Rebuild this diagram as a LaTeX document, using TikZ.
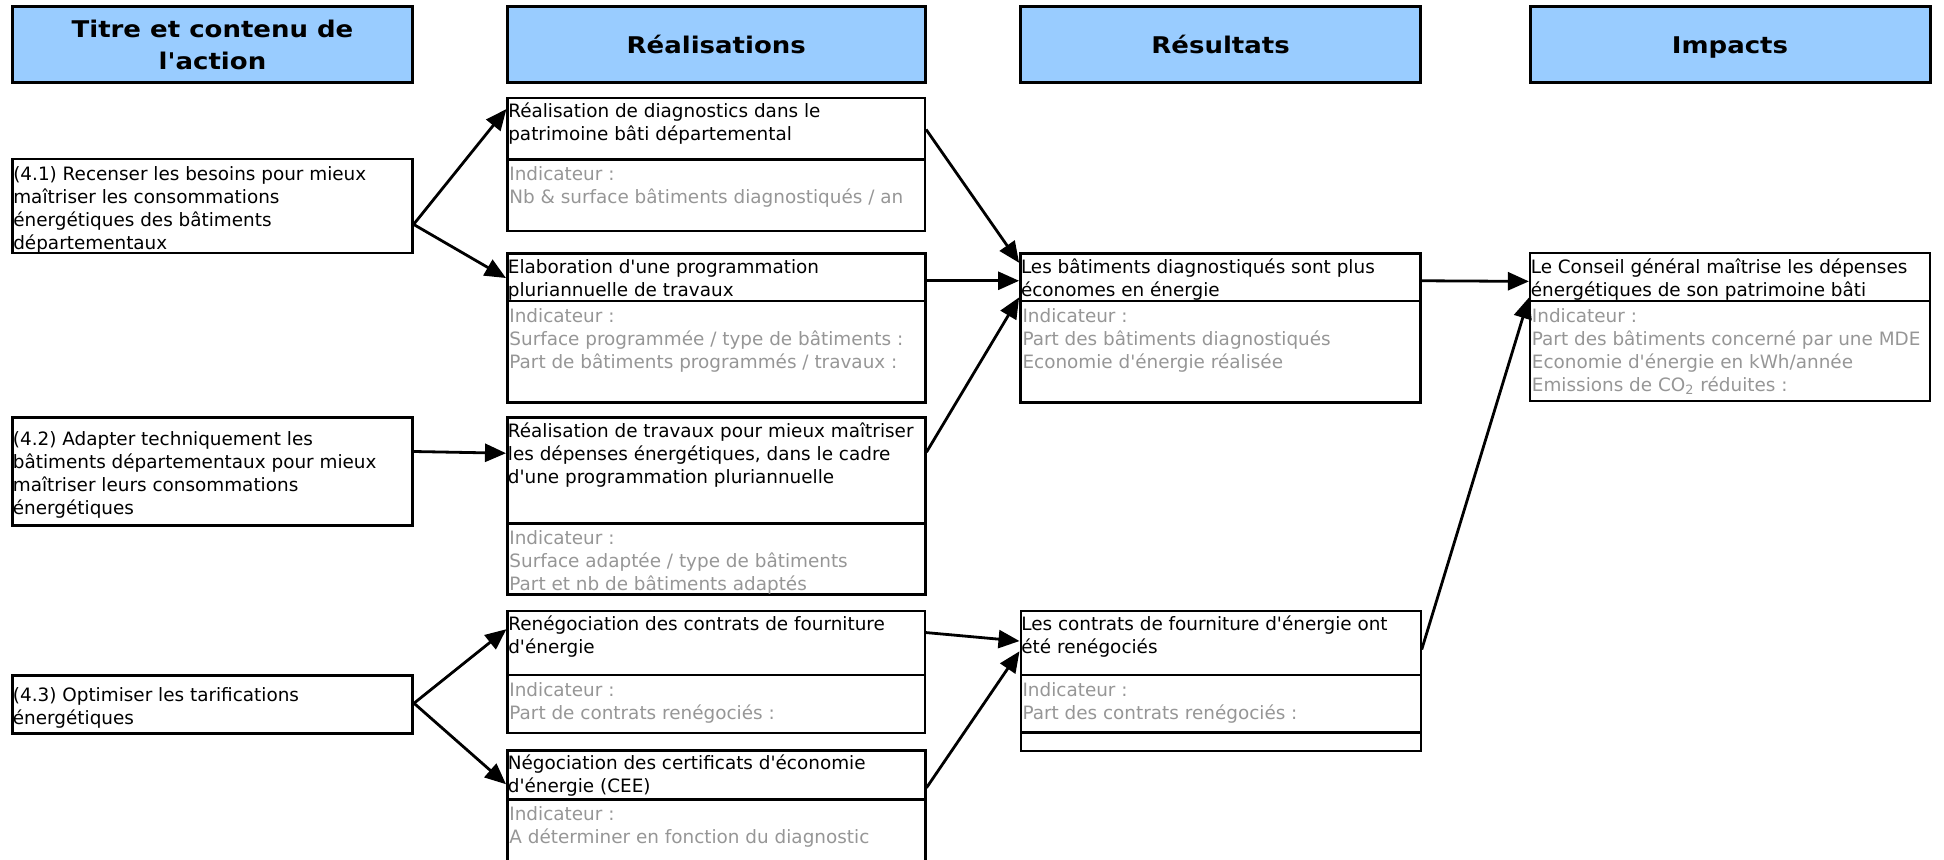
\documentclass[tikz,border=0pt]{standalone}
\usepackage{fontspec}
\setmainfont{DejaVu Sans}
\newfontfamily\bodyf{DejaVu Sans}
\newfontfamily\headf{DejaVu Sans}[FakeStretch=1.13]
\usetikzlibrary{arrows.meta,fit,calc}
\definecolor{hdrblue}{HTML}{99CCFF}
\definecolor{indgray}{RGB}{150,150,150}
\newcommand{\fl}{\rule{0pt}{10.4pt}}
\tikzset{
  hdrbox/.style={draw, line width=1.5pt, fill=hdrblue, inner sep=0pt},
  hdrtxt/.style={inner sep=0pt, align=center, font=\headf\bfseries\fontsize{11.5}{16}\selectfont},
  boxthin/.style={draw, line width=1.1pt, inner sep=0pt},
  boxthick/.style={draw, line width=1.5pt, inner sep=0pt},
  divider/.style={line width=1.3pt},
  txt/.style={inner sep=0pt, align=left, font=\bodyf\fontsize{9.2}{11.5}\selectfont},
  gtxt/.style={txt, text=indgray},
  arr/.style={line width=1.4pt, -{Triangle[length=10.5pt,width=9pt]}},
}
\begin{document}
\begin{tikzpicture}[x=0.5pt,y=-0.5pt]
\useasboundingbox (0,0) rectangle (1944,859);

% headers
\node[hdrbox, fit={(12.5,6.7) (412.5,82.7)}] (H1) {};
\node[hdrtxt] (H1t) at (H1) {Titre et contenu de\\l'action};
\node[hdrbox, fit={(507.5,6.7) (925,82.7)}] (H2) {};
\node[hdrtxt, anchor=base] (H2t) at ([yshift=-4.5pt]H2.center) {Réalisations};
\node[hdrbox, fit={(1020.6,6.7) (1420.6,82.7)}] (H3) {};
\node[hdrtxt, anchor=base] (H3t) at ([yshift=-4.5pt]H3.center) {Résultats};
\node[hdrbox, fit={(1530,6.7) (1930,82.7)}] (H4) {};
\node[hdrtxt, anchor=base] (H4t) at ([yshift=-4.5pt]H4.center) {Impacts};

% column A
\node[boxthin, fit={(12.5,159.3) (412.5,253.3)}] (A1) {};
\node[txt, anchor=west] (A1t) at ([xshift=0.75pt,yshift=-1.8pt]A1.west) {(4.1) Recenser les besoins pour mieux\\maîtriser les consommations\\énergétiques des bâtiments\\départementaux};
\node[boxthick, fit={(12.5,417.7) (412.5,525)}] (A2) {};
\node[txt, anchor=west] (A2t) at ([xshift=0.75pt,yshift=-1.8pt]A2.west) {(4.2) Adapter techniquement les\\bâtiments départementaux pour mieux\\maîtriser leurs consommations\\énergétiques};
\node[boxthick, fit={(12.5,675) (412.5,733.3)}] (A3) {};
\node[txt, anchor=west] (A3t) at ([xshift=0.75pt,yshift=-1.8pt]A3.west) {(4.3) Optimiser les tarifications\\énergétiques};

% column B
\node[boxthin, fit={(507.5,97.7) (925,230.7)}] (B1) {};
\coordinate (B1d) at (507.5,159.3);
\draw[divider] (B1d) -- (B1d -| B1.east);
\node[txt, anchor=north west] (B1t) at ([xshift=0.75pt]B1.north west) {\fl Réalisation de diagnostics dans le\\patrimoine bâti départemental};
\node[gtxt, anchor=north west] (B1g) at ([xshift=0.75pt]B1d) {\fl Indicateur :\\Nb \& surface bâtiments diagnostiqués / an};

\node[boxthick, fit={(507.5,253.3) (925,402.7)}] (B2) {};
\coordinate (B2d) at (507.5,301);
\draw[divider] (B2d) -- (B2d -| B2.east);
\node[txt, anchor=north west] (B2t) at ([xshift=0.75pt]B2.north west) {\fl Elaboration d'une programmation\\pluriannuelle de travaux};
\node[gtxt, anchor=north west] (B2g) at ([xshift=0.75pt]B2d) {\fl Indicateur :\\Surface programmée / type de bâtiments :\\Part de bâtiments programmés / travaux :};

\node[boxthick, fit={(507.5,417.7) (925,594.3)}] (B3) {};
\coordinate (B3d) at (507.5,523.3);
\draw[divider] (B3d) -- (B3d -| B3.east);
\node[txt, anchor=north west] (B3t) at ([xshift=0.75pt]B3.north west) {\fl Réalisation de travaux pour mieux maîtriser\\les dépenses énergétiques, dans le cadre\\d'une programmation pluriannuelle};
\node[gtxt, anchor=north west] (B3g) at ([xshift=0.75pt]B3d) {\fl Indicateur :\\Surface adaptée / type de bâtiments\\Part et nb de bâtiments adaptés};

\node[boxthin, fit={(507.5,610.7) (925,733.3)}] (B4) {};
\coordinate (B4d) at (507.5,675);
\draw[divider] (B4d) -- (B4d -| B4.east);
\node[txt, anchor=north west] (B4t) at ([xshift=0.75pt]B4.north west) {\fl Renégociation des contrats de fourniture\\d'énergie};
\node[gtxt, anchor=north west] (B4g) at ([xshift=0.75pt]B4d) {\fl Indicateur :\\Part de contrats renégociés :};

\node[boxthick, fit={(507.5,750) (925,866)}] (B5) {};
\coordinate (B5d) at (507.5,799.3);
\draw[divider] (B5d) -- (B5d -| B5.east);
\node[txt, anchor=north west] (B5t) at ([xshift=0.75pt]B5.north west) {\fl Négociation des certificats d'économie\\d'énergie (CEE)};
\node[gtxt, anchor=north west] (B5g) at ([xshift=0.75pt]B5d) {\fl Indicateur :\\A déterminer en fonction du diagnostic};

% column C
\node[boxthick, fit={(1020.6,253.3) (1420.6,402.7)}] (C1) {};
\coordinate (C1d) at (1020.6,301);
\draw[divider] (C1d) -- (C1d -| C1.east);
\node[txt, anchor=north west] (C1t) at ([xshift=0.75pt]C1.north west) {\fl Les bâtiments diagnostiqués sont plus\\économes en énergie};
\node[gtxt, anchor=north west] (C1g) at ([xshift=0.75pt]C1d) {\fl Indicateur :\\Part des bâtiments diagnostiqués\\Economie d'énergie réalisée};

\node[boxthin, fit={(1020.6,610.7) (1420.6,750.7)}] (C2) {};
\coordinate (C2d) at (1020.6,675);
\coordinate (C2e) at (1020.6,732.7);
\draw[divider] (C2d) -- (C2d -| C2.east);
\draw[divider] (C2e) -- (C2e -| C2.east);
\node[txt, anchor=north west] (C2t) at ([xshift=0.75pt]C2.north west) {\fl Les contrats de fourniture d'énergie ont\\été renégociés};
\node[gtxt, anchor=north west] (C2g) at ([xshift=0.75pt]C2d) {\fl Indicateur :\\Part des contrats renégociés :};

% column D
\node[boxthin, fit={(1530,253.3) (1930,400.7)}] (D1) {};
\coordinate (D1d) at (1530,301);
\draw[divider] (D1d) -- (D1d -| D1.east);
\node[txt, anchor=north west] (D1t) at ([xshift=0.75pt]D1.north west) {\fl Le Conseil général maîtrise les dépenses\\énergétiques de son patrimoine bâti};
\node[gtxt, anchor=north west] (D1g) at ([xshift=0.75pt]D1d) {\fl Indicateur :\\Part des bâtiments concerné par une MDE\\Economie d'énergie en kWh/année\\Emissions de CO\textsubscript{2} réduites :};

% connectors
\draw[arr] ($(A1.north east)!0.688!(A1.south east)$) -- ($(B1.north west)!0.092!(B1.south west)$);
\draw[arr] ($(A1.north east)!0.688!(A1.south east)$) -- ($(B2.north west)!0.172!(B2.south west)$);
\draw[arr] ($(A2.north east)!0.32!(A2.south east)$) -- ($(B3.north west)!0.206!(B3.south west)$);
\draw[arr] ($(A3.north east)!0.485!(A3.south east)$) -- ($(B4.north west)!0.157!(B4.south west)$);
\draw[arr] ($(A3.north east)!0.485!(A3.south east)$) -- ($(B5.north west)!0.30!(B5.south west)$);
\draw[arr] ($(B1.north east)!0.243!(B1.south east)$) -- ($(C1.north west)!0.072!(C1.south west)$);
\draw[arr] ($(B2.north east)!0.19!(B2.south east)$) -- ($(C1.north west)!0.19!(C1.south west)$);
\draw[arr] ($(B3.north east)!0.2!(B3.south east)$) -- ($(C1.north west)!0.299!(C1.south west)$);
\draw[arr] ($(C1.north east)!0.19!(C1.south east)$) -- ($(D1.north west)!0.195!(D1.south west)$);
\draw[arr] ($(C2.north east)!0.281!(C2.south east)$) -- ($(D1.north west)!0.303!(D1.south west)$);
\draw[arr] ($(B4.north east)!0.184!(B4.south east)$) -- ($(C2.north west)!0.221!(C2.south west)$);
\draw[arr] ($(B5.north east)!0.33!(B5.south east)$) -- ($(C2.north west)!0.293!(C2.south west)$);
\end{tikzpicture}
\end{document}
